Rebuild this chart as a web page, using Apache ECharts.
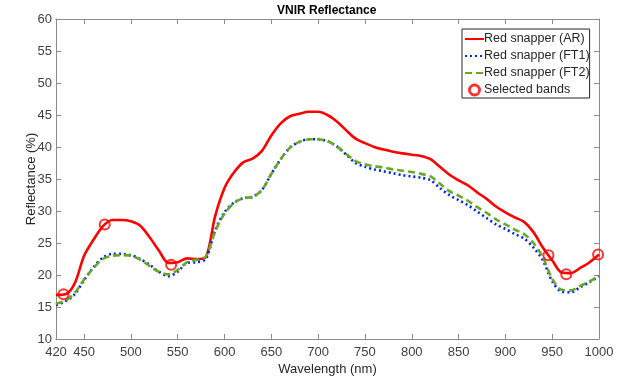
<!DOCTYPE html>
<html>
<head>
<meta charset="utf-8">
<script src="https://cdn.jsdelivr.net/npm/echarts@6/dist/echarts.min.js"></script>
<style>
  html, body { margin: 0; padding: 0; background: #fff; }
  #chart { width: 636px; height: 376px; }
</style>
</head>
<body>
<div id="chart"></div>
<script>
// wavelength (nm), one reading every 10 nm
var wavelengths = [420, 430, 440, 450, 460, 470, 480, 490, 500, 510,
                   520, 530, 540, 550, 560, 570, 580, 590, 600, 610,
                   620, 630, 640, 650, 660, 670, 680, 690, 700, 710,
                   720, 730, 740, 750, 760, 770, 780, 790, 800, 810,
                   820, 830, 840, 850, 860, 870, 880, 890, 900, 910,
                   920, 930, 940, 950, 960, 970, 980, 990, 1000];
var reflAR = [16.9, 17.0, 18.7, 23.0, 25.5, 27.6, 28.6, 28.6, 28.4, 27.7,
              25.9, 23.8, 21.9, 22.0, 22.6, 22.5, 22.8, 29.2, 33.6, 36.0,
              37.6, 38.2, 39.4, 41.8, 43.7, 44.8, 45.2, 45.5, 45.5, 45.0,
              44.0, 42.6, 41.3, 40.6, 40.0, 39.6, 39.25, 39.0, 38.8, 38.6,
              38.1, 36.9, 35.7, 34.8, 34.0, 32.9, 31.9, 30.7, 29.8, 29.0,
              28.3, 26.7, 24.3, 22.3, 20.4, 20.3, 21.1, 22.0, 23.2];
var reflFT1 = [15.3, 15.9, 17.0, 19.2, 21.2, 22.7, 23.3, 23.3, 23.1, 22.5,
               21.6, 20.5, 19.8, 20.5, 21.9, 22.0, 22.5, 27.0, 29.8, 31.3,
               32.0, 32.2, 33.3, 35.8, 38.1, 39.9, 40.8, 41.2, 41.2, 40.9,
               40.1, 38.8, 37.5, 36.9, 36.5, 36.2, 35.9, 35.6, 35.4, 35.2,
               34.8, 33.6, 32.5, 31.7, 30.9, 29.9, 28.9, 27.9, 27.2, 26.4,
               25.7, 24.3, 22.3, 19.0, 17.4, 17.3, 18.1, 18.9, 19.8];
var reflFT2 = [15.5, 16.0, 17.2, 19.3, 21.1, 22.5, 23.0, 23.1, 23.0, 22.4,
               21.4, 20.5, 20.1, 20.8, 22.0, 22.4, 22.9, 26.8, 29.6, 31.2,
               32.0, 32.2, 33.3, 35.8, 38.1, 39.9, 40.8, 41.2, 41.2, 40.9,
               40.1, 38.9, 37.8, 37.3, 37.0, 36.8, 36.5, 36.3, 36.1, 35.8,
               35.4, 34.3, 33.1, 32.4, 31.6, 30.6, 29.7, 28.7, 27.9, 27.1,
               26.4, 25.0, 22.8, 19.4, 17.7, 17.6, 18.3, 19.0, 19.9];
var bandWavelengths = [428, 472, 543, 946, 965, 999];
var bandValues = [17.0, 27.9, 21.6, 23.1, 20.1, 23.2];
var xTickLabels = [420, 450, 500, 550, 600, 650, 700, 750, 800, 850, 900, 950, 1000];
var xTicks = [450, 500, 550, 600, 650, 700, 750, 800, 850, 900, 950];

function pairs(xs, ys) {
    return xs.map(function (x, i) { return [x, ys[i]]; });
}

var axisColor = '#8c8c8c';
var labelColor = '#404040';
var font = 'Liberation Sans, Arial, sans-serif';
var hideSymbol = { color: 'rgba(0,0,0,0)', borderColor: 'rgba(0,0,0,0)', borderWidth: 0 };

var option = {
    animation: false,
    backgroundColor: '#fff',
    textStyle: { fontFamily: font },
    title: {
        text: 'VNIR Reflectance',
        left: 277,
        top: 5,
        padding: 0,
        textStyle: { fontSize: 12, fontWeight: 'bold', color: '#000', fontFamily: font }
    },
    legend: {
        orient: 'vertical',
        left: 462,
        top: 29,
        padding: [3, 0, 1, 2],
        itemWidth: 19,
        itemHeight: 10,
        itemGap: 3,
        borderColor: '#262626',
        borderWidth: 1,
        borderRadius: 0,
        backgroundColor: '#fff',
        textStyle: { fontSize: 12.5, lineHeight: 14, color: '#262626', fontFamily: font, padding: [0, 0, 0, -5] },
        data: [
            { name: 'Red snapper (AR)', itemStyle: hideSymbol },
            { name: 'Red snapper (FT1)', itemStyle: hideSymbol },
            { name: 'Red snapper (FT2)', itemStyle: hideSymbol },
            { name: 'Selected bands', icon: 'circle',
              itemStyle: { color: '#fff', borderColor: '#ff0000', borderWidth: 3 } }
        ]
    },
    grid: { left: 56, right: 37, top: 19, bottom: 37, outerBoundsMode: 'none' },
    xAxis: [{
        type: 'value',
        min: 420,
        max: 1000,
        name: 'Wavelength (nm)',
        nameLocation: 'middle',
        nameGap: 24,
        nameMoveOverlap: false,
        nameTextStyle: { fontSize: 13, color: '#262626' },
        axisLine: { lineStyle: { color: axisColor, width: 1 } },
        axisTick: { inside: true, length: 5, customValues: xTicks, lineStyle: { color: axisColor } },
        axisLabel: { customValues: xTickLabels, fontSize: 13, color: labelColor, margin: 7,
                     formatter: function (v) { return String(v); } },
        splitLine: { show: false }
    }, {
        type: 'value',
        position: 'top',
        min: 420,
        max: 1000,
        axisLine: { show: true, lineStyle: { color: axisColor, width: 1 } },
        axisTick: { show: true, inside: true, length: 5, customValues: xTicks, lineStyle: { color: axisColor } },
        axisLabel: { show: false },
        splitLine: { show: false }
    }],
    yAxis: [{
        type: 'value',
        min: 10,
        max: 60,
        interval: 5,
        name: 'Reflectance (%)',
        nameLocation: 'middle',
        nameGap: 18,
        nameMoveOverlap: false,
        nameTextStyle: { fontSize: 13, color: '#262626' },
        axisLine: { show: true, lineStyle: { color: axisColor, width: 1 } },
        axisTick: { show: true, inside: true, length: 5, lineStyle: { color: axisColor } },
        axisLabel: { fontSize: 13, color: labelColor, margin: 4 },
        splitLine: { show: false }
    }, {
        type: 'value',
        position: 'right',
        min: 10,
        max: 60,
        interval: 5,
        axisLine: { show: true, lineStyle: { color: axisColor, width: 1 } },
        axisTick: { show: true, inside: true, length: 5, lineStyle: { color: axisColor } },
        axisLabel: { show: false },
        splitLine: { show: false }
    }],
    series: [
        {
            name: 'Red snapper (AR)',
            type: 'line',
            data: pairs(wavelengths, reflAR),
            smooth: 0.3,
            symbol: 'none',
            color: '#ff0000',
            lineStyle: { color: '#ff0000', width: 2.6 }
        },
        {
            name: 'Red snapper (FT1)',
            type: 'line',
            data: pairs(wavelengths, reflFT1),
            smooth: 0.3,
            symbol: 'none',
            color: '#0022ff',
            lineStyle: { color: '#0022ff', width: 2.6, type: [2, 3] }
        },
        {
            name: 'Red snapper (FT2)',
            type: 'line',
            data: pairs(wavelengths, reflFT2),
            smooth: 0.3,
            symbol: 'none',
            color: '#66aa22',
            lineStyle: { color: '#66aa22', width: 2.6, type: [7, 4] }
        },
        {
            name: 'Selected bands',
            type: 'scatter',
            data: pairs(bandWavelengths, bandValues),
            symbol: 'circle',
            symbolSize: 10,
            color: '#ff0000',
            itemStyle: { color: 'rgba(255,255,255,0)', borderColor: '#ff0000', borderWidth: 2 },
            z: 5
        }
    ]
};

var chart = echarts.init(document.getElementById('chart'));
chart.setOption(option);
</script>
</body>
</html>
